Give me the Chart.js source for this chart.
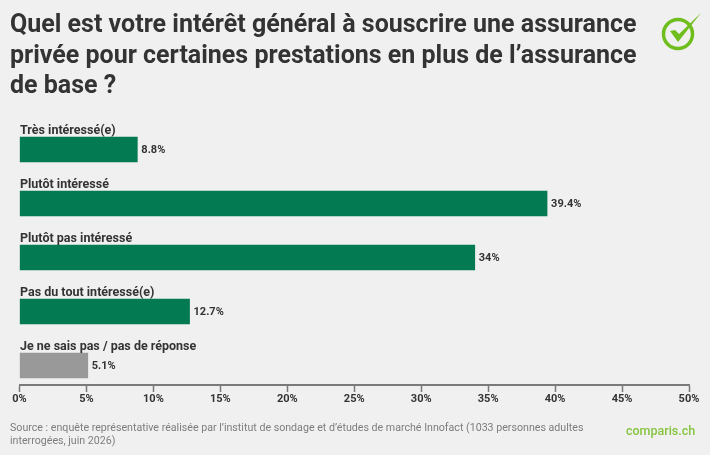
<!DOCTYPE html>
<html lang="fr">
<head>
<meta charset="utf-8">
<title>Intérêt pour une assurance privée</title>
<script src="https://cdn.jsdelivr.net/npm/chart.js@4"></script>
<style>
    html, body { margin: 0; padding: 0; background: #f0f0f0; }
    #wrap { position: relative; width: 710px; height: 455px; overflow: hidden; font-family: Roboto, sans-serif; }
    #chart { position: absolute; left: 0; top: 0; }
    #title { position: absolute; left: 10px; top: 9px; margin: 0; font-size: 25px; line-height: 30.5px; font-weight: 700; color: #333; white-space: nowrap; }
    #source { position: absolute; left: 10px; top: 420.5px; font-size: 10.65px; line-height: 13.5px; color: #7d7d7d; white-space: nowrap; }
    #brand { position: absolute; left: 626px; top: 423px; font-size: 12.5px; line-height: 16px; font-weight: 500; color: #86c440; }
    #logo { position: absolute; left: 660px; top: 11px; }
</style>
</head>
<body>
<div id="wrap">
    <canvas id="chart" width="710" height="455"></canvas>
    <h1 id="title">Quel est votre intérêt général à souscrire une assurance<br>privée pour certaines prestations en plus de l’assurance<br>de base ?</h1>
    <svg id="logo" width="44" height="42" viewBox="0 0 44 42">
        <circle cx="18" cy="23" r="14.5" fill="none" stroke="#6fbe1e" stroke-width="3.5"/>
        <path d="M10 20 L18 31 L41 2 L19 23 L15 19 Z" fill="#6fbe1e"/>
    </svg>
    <div id="source">Source : enquête représentative réalisée par l’institut de sondage et d’études de marché Innofact (1033 personnes adultes<br>interrogées, juin 2026)</div>
    <div id="brand">comparis.ch</div>
</div>
<script>
"use strict";

const categories = ["Très intéressé(e)", "Plutôt intéressé", "Plutôt pas intéressé", "Pas du tout intéressé(e)", "Je ne sais pas / pas de réponse"];
const values = [8.8, 39.4, 34, 12.7, 5.1];
const valueLabels = ["8.8%", "39.4%", "34%", "12.7%", "5.1%"];
const barColors = ["#047a52", "#047a52", "#047a52", "#047a52", "#999999"];

// category names sit above each bar, values just right of it
const barText = {
    id: "barText",
    afterDatasetsDraw(chart) {
        const ctx = chart.ctx;
        const bars = chart.getDatasetMeta(0).data;
        ctx.save();
        ctx.fillStyle = "#333";
        ctx.textBaseline = "middle";
        bars.forEach(function (bar, i) {
            ctx.font = "700 12.5px Roboto";
            ctx.fillText(categories[i], bar.base, bar.y - 19);
            ctx.font = "700 11px Roboto";
            ctx.fillText(valueLabels[i], bar.x + 4, bar.y + 0.5);
        });
        ctx.restore();
    }
};

new Chart(document.getElementById("chart"), {
    type: "bar",
    data: {
        labels: categories,
        datasets: [{
            data: values,
            backgroundColor: barColors,
            barThickness: 25
        }]
    },
    plugins: [barText],
    options: {
        indexAxis: "y",
        responsive: false,
        animation: false,
        layout: {
            padding: { left: 19.5, right: 21, top: 122.5, bottom: 62.5 }
        },
        plugins: {
            legend: { display: false },
            tooltip: { enabled: false }
        },
        scales: {
            y: {
                display: false
            },
            x: {
                position: { y: 4.36 },
                min: 0,
                max: 50,
                ticks: {
                    stepSize: 5,
                    autoSkip: false,
                    maxRotation: 0,
                    padding: 2,
                    color: "#333",
                    font: { family: "Roboto", size: 11, weight: "700" },
                    callback: function (value) { return value + "%"; }
                },
                grid: {
                    drawOnChartArea: false,
                    drawTicks: true,
                    tickLength: 6,
                    tickColor: "#7a7a7a",
                    tickWidth: 1.5
                },
                border: { color: "#7a7a7a", width: 2 }
            }
        }
    }
});
</script>
</body>
</html>
